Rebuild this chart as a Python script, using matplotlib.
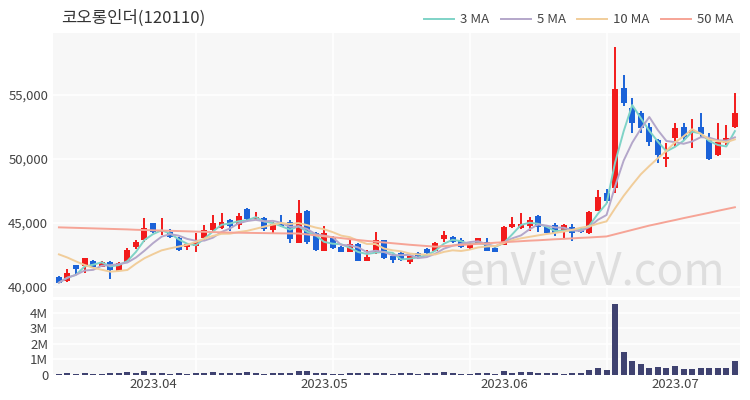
import matplotlib
matplotlib.use('Agg')
import matplotlib.pyplot as plt
import numpy as np
import pandas as pd

plt.rcParams['font.family'] = ['Noto Sans CJK KR', 'DejaVu Sans']

title = '코오롱인더(120110)'

# daily candles, 2023-03-17 .. 2023-07-12
opens = [40800, 40470, 41720, 41670, 42030, 41590, 41980, 41280, 41930, 43150,
         43670, 44975, 44300, 44320, 43800, 43100, 43200, 43800, 44450, 44640,
         45230, 44840, 46070, 45290, 45420, 44450, 44975, 45100, 43460, 45940,
         44190, 42840, 43880, 43150, 42760, 43330, 42060, 42630, 43670, 42420,
         42630, 41980, 42630, 42970, 42840, 43730, 43880, 43670, 43070, 43410,
         43540, 43070, 43280, 44710, 44580, 44770, 45570, 44710, 44840, 44450,
         44710, 44580, 44240, 45960, 47370, 47710, 55570, 53960, 53570, 52520,
         51480, 49980, 51620, 52520, 52010, 52520, 51480, 50310, 51270, 52520]
highs = [40850, 41380, 41750, 42300, 42080, 42000, 42000, 41950, 43050, 43670,
         45360, 45000, 45360, 44530, 43900, 43400, 44190, 44840, 45620, 45750,
         45300, 45750, 46200, 45890, 45500, 45050, 45620, 45200, 46800, 46000,
         44300, 44765, 44000, 43200, 43670, 43400, 42900, 44320, 43700, 42550,
         42800, 42450, 42760, 43050, 43500, 44375, 44000, 43800, 43400, 43850,
         43850, 43150, 44750, 45490, 45750, 45500, 45600, 44800, 45000, 44900,
         44920, 44700, 45950, 47600, 47660, 58730, 56560, 54740, 53770, 52790,
         51550, 51230, 52790, 52840, 53100, 53610, 52010, 52840, 52660, 55130]
lows = [40300, 40400, 41020, 41120, 41500, 41550, 40600, 41250, 41900, 43000,
        43500, 44200, 44060, 43800, 42850, 42900, 42760, 43700, 44300, 44550,
        44375, 44500, 45050, 45200, 44400, 44140, 44700, 43460, 43400, 43330,
        42800, 42800, 43000, 42700, 42700, 42000, 42000, 42550, 42200, 41900,
        42050, 41800, 42200, 42550, 42800, 43540, 43400, 43050, 42900, 43350,
        42800, 42700, 43250, 44600, 44500, 44400, 44270, 44200, 43950, 43750,
        43600, 44200, 44150, 45900, 46600, 47370, 54100, 52060, 52050, 51020,
        49660, 49350, 50960, 51480, 50840, 51620, 49900, 50250, 51090, 52450]
closes = [40340, 41120, 41400, 42290, 41540, 41950, 41330, 41850, 42890, 43490,
          44640, 44270, 44380, 43880, 42890, 43360, 43540, 44450, 45030, 45100,
          44770, 45550, 45310, 45500, 44530, 44950, 44765, 43720, 45750, 43490,
          42890, 44190, 43070, 42760, 43360, 42060, 42320, 43670, 42240, 42110,
          42110, 42420, 42420, 42630, 43460, 44060, 43540, 43150, 43330, 43800,
          42840, 42760, 44710, 44920, 44920, 45230, 44660, 44240, 44190, 44840,
          44240, 44320, 45840, 47030, 46700, 55450, 54350, 52840, 52400, 51350,
          50310, 50130, 52400, 51740, 52270, 51950, 49980, 51350, 51610, 53570]
volumes = [0.09, 0.10, 0.08, 0.10, 0.09, 0.08, 0.15, 0.16, 0.17, 0.16,
           0.27, 0.12, 0.10, 0.09, 0.10, 0.09, 0.10, 0.15, 0.17, 0.16,
           0.10, 0.10, 0.17, 0.10, 0.09, 0.10, 0.12, 0.10, 0.28, 0.26,
           0.16, 0.10, 0.09, 0.09, 0.10, 0.12, 0.10, 0.16, 0.10, 0.09,
           0.10, 0.10, 0.09, 0.16, 0.10, 0.17, 0.10, 0.09, 0.09, 0.10,
           0.10, 0.09, 0.26, 0.16, 0.17, 0.17, 0.16, 0.10, 0.10, 0.09,
           0.10, 0.10, 0.32, 0.47, 0.30, 4.55, 1.49, 0.90, 0.69, 0.47,
           0.53, 0.47, 0.58, 0.37, 0.37, 0.47, 0.43, 0.43, 0.43, 0.92]

# 10 MA before the window has 10 closes, and the 50 MA (needs earlier history)
ma10_head = [42550, 42300, 42000, 41720, 41500, 41350, 41200, 41250, 41330]
ma50 = [44660, 44640, 44620, 44600, 44580, 44560, 44540, 44520, 44500, 44470,
        44450, 44430, 44410, 44390, 44370, 44350, 44330, 44310, 44290, 44270,
        44250, 44240, 44230, 44220, 44210, 44200, 44190, 44185, 44180, 44110,
        44030, 43960, 43890, 43820, 43740, 43670, 43600, 43540, 43480, 43420,
        43360, 43300, 43250, 43200, 43150, 43190, 43240, 43280, 43330, 43370,
        43410, 43460, 43500, 43540, 43580, 43620, 43650, 43690, 43730, 43760,
        43800, 43840, 43870, 43910, 43950, 44120, 44290, 44460, 44630, 44800,
        44940, 45090, 45230, 45380, 45520, 45660, 45800, 45950, 46090, 46230]

tick_idx = [11, 31, 52, 72]
tick_labels = ['2023.04', '2023.05', '2023.06', '2023.07']

df = pd.DataFrame({'open': opens, 'high': highs, 'low': lows, 'close': closes,
                   'volume': np.array(volumes) * 1e6})
x = np.arange(len(df))
ma3 = df['close'].rolling(3, min_periods=1).mean()
ma5 = df['close'].rolling(5, min_periods=1).mean()
ma10 = df['close'].rolling(10).mean()
ma10.iloc[:len(ma10_head)] = ma10_head

RED = '#f21b1b'
BLUE = '#1b62d8'
BG = '#f7f7f7'

fig = plt.figure(figsize=(7.5, 4), dpi=100)
ax = fig.add_axes([0.0707, 0.2575, 0.916, 0.66])
axv = fig.add_axes([0.0707, 0.0625, 0.916, 0.1875], sharex=ax)

for a in (ax, axv):
    a.set_facecolor(BG)
    for s in a.spines.values():
        s.set_visible(False)
    a.tick_params(which='both', length=0, colors='#444444', labelsize=9.5)
    a.set_xticks([16, 32, 48, 64], minor=True)
    a.grid(True, which='minor', axis='x', color='white', lw=1.2)
    a.grid(True, which='major', axis='y', color='white', lw=1.2)
    a.set_axisbelow(True)

up = df['close'] >= df['open']
cols = np.where(up, RED, BLUE)
body_lo = np.minimum(df['open'], df['close'])
body_h = np.maximum(np.abs(df['close'] - df['open']), 60)
ax.vlines(x, df['low'], df['high'], colors=cols, lw=1.4, zorder=2)
ax.bar(x, body_h, bottom=body_lo, width=0.7, color=cols, zorder=3)

ax.plot(x, ma3, color='#7fd3c7', lw=1.4, label='3 MA', zorder=4)
ax.plot(x, ma5, color='#b4a7ca', lw=1.4, label='5 MA', zorder=4)
ax.plot(x, ma10, color='#f1cd9a', lw=1.4, label='10 MA', zorder=4)
ax.plot(x, ma50, color='#f6a496', lw=1.4, label='50 MA', zorder=4)

ax.set_ylim(39220, 59840)
ax.set_yticks([40000, 45000, 50000, 55000])
ax.yaxis.set_major_formatter(matplotlib.ticker.FuncFormatter(lambda v, p: f'{int(v):,}'))
ax.set_xlim(-0.69, 79.6)
plt.setp(ax.get_xticklabels(), visible=False)

leg = ax.legend(loc='lower right', bbox_to_anchor=(1.0, 1.0), ncol=4, frameon=False,
                fontsize=9.5, handlelength=2.3, columnspacing=0.85, handletextpad=0.45,
                borderaxespad=0.1)
for t in leg.get_texts():
    t.set_color('#444444')

ax.text(0.012, 1.025, title, transform=ax.transAxes, fontsize=12, color='#333333',
        ha='left', va='bottom')
ax.text(0.785, 0.095, 'enVievV.com', transform=ax.transAxes, fontsize=32,
        color='#dedede', ha='center', va='center', zorder=1)

axv.bar(x, df['volume'], width=0.7, color='#3f4270', zorder=3)
axv.set_ylim(0, 4.8e6)
axv.set_yticks([0, 1e6, 2e6, 3e6, 4e6])
axv.set_yticklabels(['0', '1M', '2M', '3M', '4M'])
axv.set_xticks(tick_idx)
axv.set_xticklabels(tick_labels)
axv.tick_params(axis='x', pad=2)

fig.savefig('out.png', dpi=100)
